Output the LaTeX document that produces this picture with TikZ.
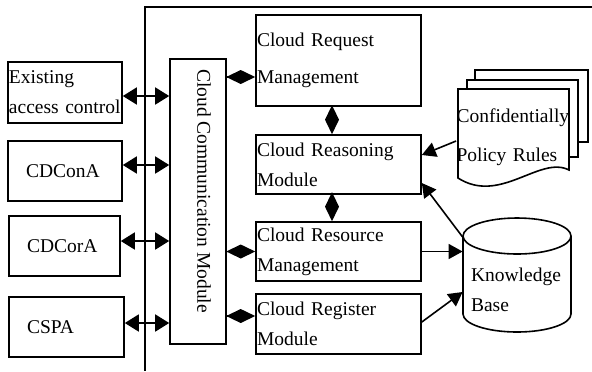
\documentclass[tikz,border=0pt]{standalone}
\usepackage{fontspec}
\setmainfont{Liberation Serif}
\usetikzlibrary{arrows.meta, calc}

\tikzset{
	modbox/.style={draw, line width=.8pt, align=left, inner xsep=.5pt, inner ysep=0pt, text width=81.5pt},
	agentbox/.style={draw, line width=.8pt, align=left, inner xsep=9pt, inner ysep=0pt, minimum height=30pt},
	link/.style={line width=.8pt, {Triangle[length=7pt,width=8.5pt]}-{Triangle[length=7pt,width=8.5pt]}},
	feed/.style={line width=.8pt, -{Triangle[length=7pt,width=7.5pt]}},
	dia/.style={line width=.8pt, -{Diamond[length=14.5pt,width=7pt]}},
}

\begin{document}
\begin{tikzpicture}[x=.5pt, y=-.5pt, every node/.style={font=\fontsize{9.75}{15}\selectfont}]
	\useasboundingbox (0,0) rectangle (592,371);
	% frame of the cloud side
	\draw [line width=.8pt] (592,7) -- (145,7) -- (145,371);

	% agents on the left
	\node [agentbox, inner xsep=.5pt, text width=56pt, minimum height=30.5pt] (existing) at (65,92.5) {Existing\\access control};
	\node [agentbox, text width=39pt] (cdcona) at (65,171) {CDConA};
	\node [agentbox, text width=37.5pt] (cdcora) at (64.5,246) {CDCorA};
	\node [agentbox, text width=39.5pt] (cspa) at (66.5,327) {CSPA};

	% communication module
	\node [draw, line width=.8pt, minimum width=28pt, minimum height=142.5pt, inner sep=0pt] (comm) at (198,201.5) {};
	\node [rotate=-90] (commtext) at (204,191) {Cloud Communication Module};

	% cloud modules
	\node [modbox, minimum height=45.5pt] (request) at (338.5,60.5) {Cloud Request\\[3.5pt]Management};
	\node [modbox, minimum height=29.5pt] (reason) at (338.5,164.5) {Cloud Reasoning\\Module};
	\node [modbox, minimum height=29.5pt] (resource) at (338.5,251.5) {Cloud Resource\\Management};
	\node [modbox, minimum height=30pt] (register) at (338.5,324) {Cloud Register\\Module};

	% policy rules (stacked documents)
	\draw [line width=.8pt, fill=white] (475,70) rectangle (588,142);
	\draw [line width=.8pt, fill=white] (467,80) rectangle (578,157);
	\draw [line width=.8pt, fill=white] (458,89) -- (569,89) -- (569,170)
		.. controls (540,155) and (500,205) .. (458,178) -- cycle;
	\node [align=left, text width=57pt, inner sep=0pt] (policy) at (513.5,137.5) {Confidentially\\[4.5pt]Policy Rules};

	% knowledge base
	\draw [line width=.8pt, fill=white] (463,236) -- (463,314) arc [start angle=180, end angle=0, x radius=54, y radius=18] -- (571,236);
	\draw [line width=.8pt] (517,236) ellipse [x radius=54, y radius=18];
	\node [align=left, text width=46pt, inner xsep=4pt, inner ysep=0pt] (kb) at (517,289.5) {Knowledge\\Base};

	% links agents <-> communication module
	\draw [link] ($(existing.east)+(0,3.5)$) -- ($(comm.west |- existing.east)+(0,3.5)$);
	\draw [link] ($(cdcona.east)+(0,-6)$) -- ($(comm.west |- cdcona.east)+(0,-6)$);
	\draw [link] ($(cdcora.east)+(0,-5)$) -- ($(comm.west |- cdcora.east)+(0,-5)$);
	\draw [link] ($(cspa.east)+(0,-4)$) -- ($(comm.west |- cspa.east)+(0,-4)$);

	% diamond links
	\draw [dia] ($(comm.east |- request.west)+(0,16.5)$) -- ($(request.west)+(0,16.5)$);
	\draw [dia] (comm.east |- resource.west) -- (resource.west);
	\draw [dia] ($(comm.east |- register.west)+(0,-8)$) -- ($(register.west)+(0,-8)$);
	\draw [dia] ($(request.south)+(-6.5,0)$) -- ($(reason.north)+(-6.5,0)$);
	\draw [dia] ($(reason.south)+(-6.5,0)$) -- ($(resource.north)+(-6.5,0)$);

	% feeds
	\draw [feed] ($(policy.west)+(0,3.5)$) -- ($(reason.east)+(0,-9.5)$);
	\draw [feed] ($(kb.west)+(0,-52.5)$) -- ($(reason.east)+(0,18.5)$);
	\draw [feed] (resource.east) -- (kb.west |- resource.east);
	\draw [feed] ($(register.east)+(0,-2)$) -- ($(kb.west)+(0,2.5)$);
\end{tikzpicture}
\end{document}
